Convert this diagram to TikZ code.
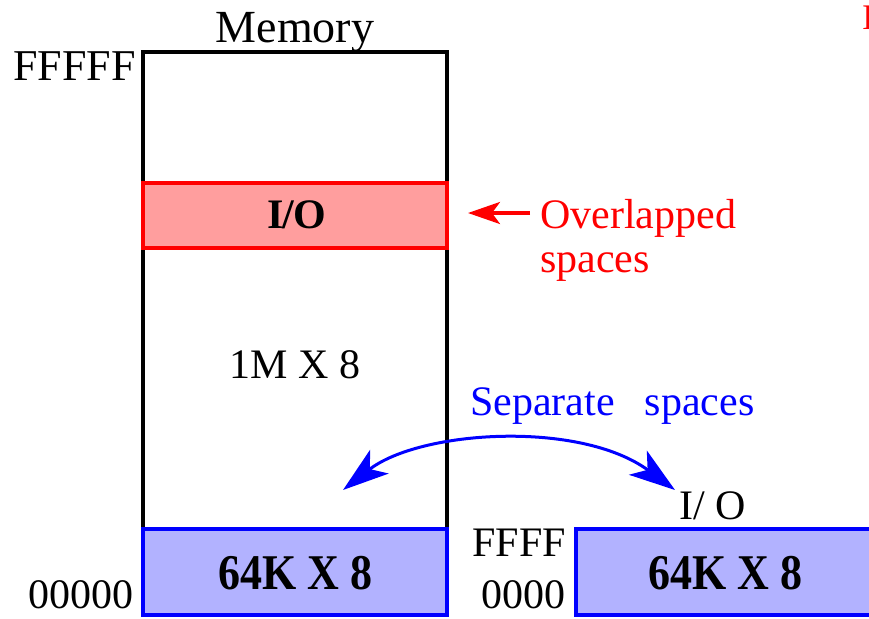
\documentclass[tikz,border=0pt]{standalone}
\usepackage{fontspec}
\setmainfont{Liberation Serif}
\usetikzlibrary{arrows.meta}
\tikzset{bigtip/.tip={Stealth[length=46pt,width=30pt,inset=12pt]}}
\begin{document}
\begin{tikzpicture}[x=1pt,y=-1pt,
  txt/.style={inner sep=0pt,font=\fontsize{42}{44}\selectfont},
  btxt/.style={inner sep=0pt,font=\fontsize{50}{52}\selectfont\bfseries},
  redbox/.style={draw=red,line width=4pt,fill=red!38},
  bluebox/.style={draw=blue,line width=4pt,fill=blue!30},
  membox/.style={draw=black,line width=4pt}]
\useasboundingbox (0,0) rectangle (869,618);
\clip (0,0) rectangle (869,618);
% memory outline
\node[membox,minimum width=304pt,minimum height=563pt,inner sep=0pt,anchor=north west] (mem) at (141,50) {};
\node[redbox,minimum width=304pt,minimum height=65pt,inner sep=0pt,anchor=north west] (io) at (141,181) {};
\node[btxt,font=\fontsize{42}{44}\selectfont\bfseries] (iot) at (297,215) {I\kern-2pt/O};
\node[bluebox,minimum width=304pt,minimum height=86pt,inner sep=0pt,anchor=north west] (lo) at (141,527) {};
\node[btxt,xscale=0.88] (lot) at (295,573) {64K X 8};
\node[bluebox,minimum width=320pt,minimum height=86pt,inner sep=0pt,anchor=north west] (sep) at (574,527) {};
\node[btxt,xscale=0.88] (sept) at (725,573) {64K X 8};
% labels
\node[txt,anchor=base,font=\fontsize{46}{48}\selectfont] (memt) at (295,42) {Memory};
\node[txt,anchor=base east,font=\fontsize{44}{46}\selectfont] (ff) at (136,80) {FFFFF};
\node[txt,anchor=base east] (zz) at (134,608) {00000};
\node[txt,anchor=base east] (ff4) at (566,556) {FFFF};
\node[txt,anchor=base east] (zz4) at (566,608) {0000};
\node[txt] (onem) at (295,365) {1M X 8};
\node[txt,text=red,anchor=base west] (ov1) at (540,228) {Overlapped};
\node[txt,text=red,anchor=base west] (ov2) at (540,272) {spaces};
\node[txt,text=blue,anchor=base west] (sp) at (470,415) {Separate\hspace{30pt}spaces};
\node[txt,anchor=base] (iosep) at (713,519) {I/ O};
\node[txt,text=red,anchor=base west,font=\fontsize{36}{38}\selectfont] (frag) at (862,30) {I};
% arrows
\coordinate (ra) at (530,213);
\coordinate (rb) at (468,213);
\draw[red,line width=3.5pt,-{Stealth[length=32pt,width=22pt,inset=8pt]}] (ra) -- (rb);
\coordinate (bl) at (343,490);
\coordinate (br) at (675,490);
\draw[blue,line width=3pt,bigtip-bigtip] (bl) .. controls (420,430) and (580,420) .. (br);
\end{tikzpicture}
\end{document}
